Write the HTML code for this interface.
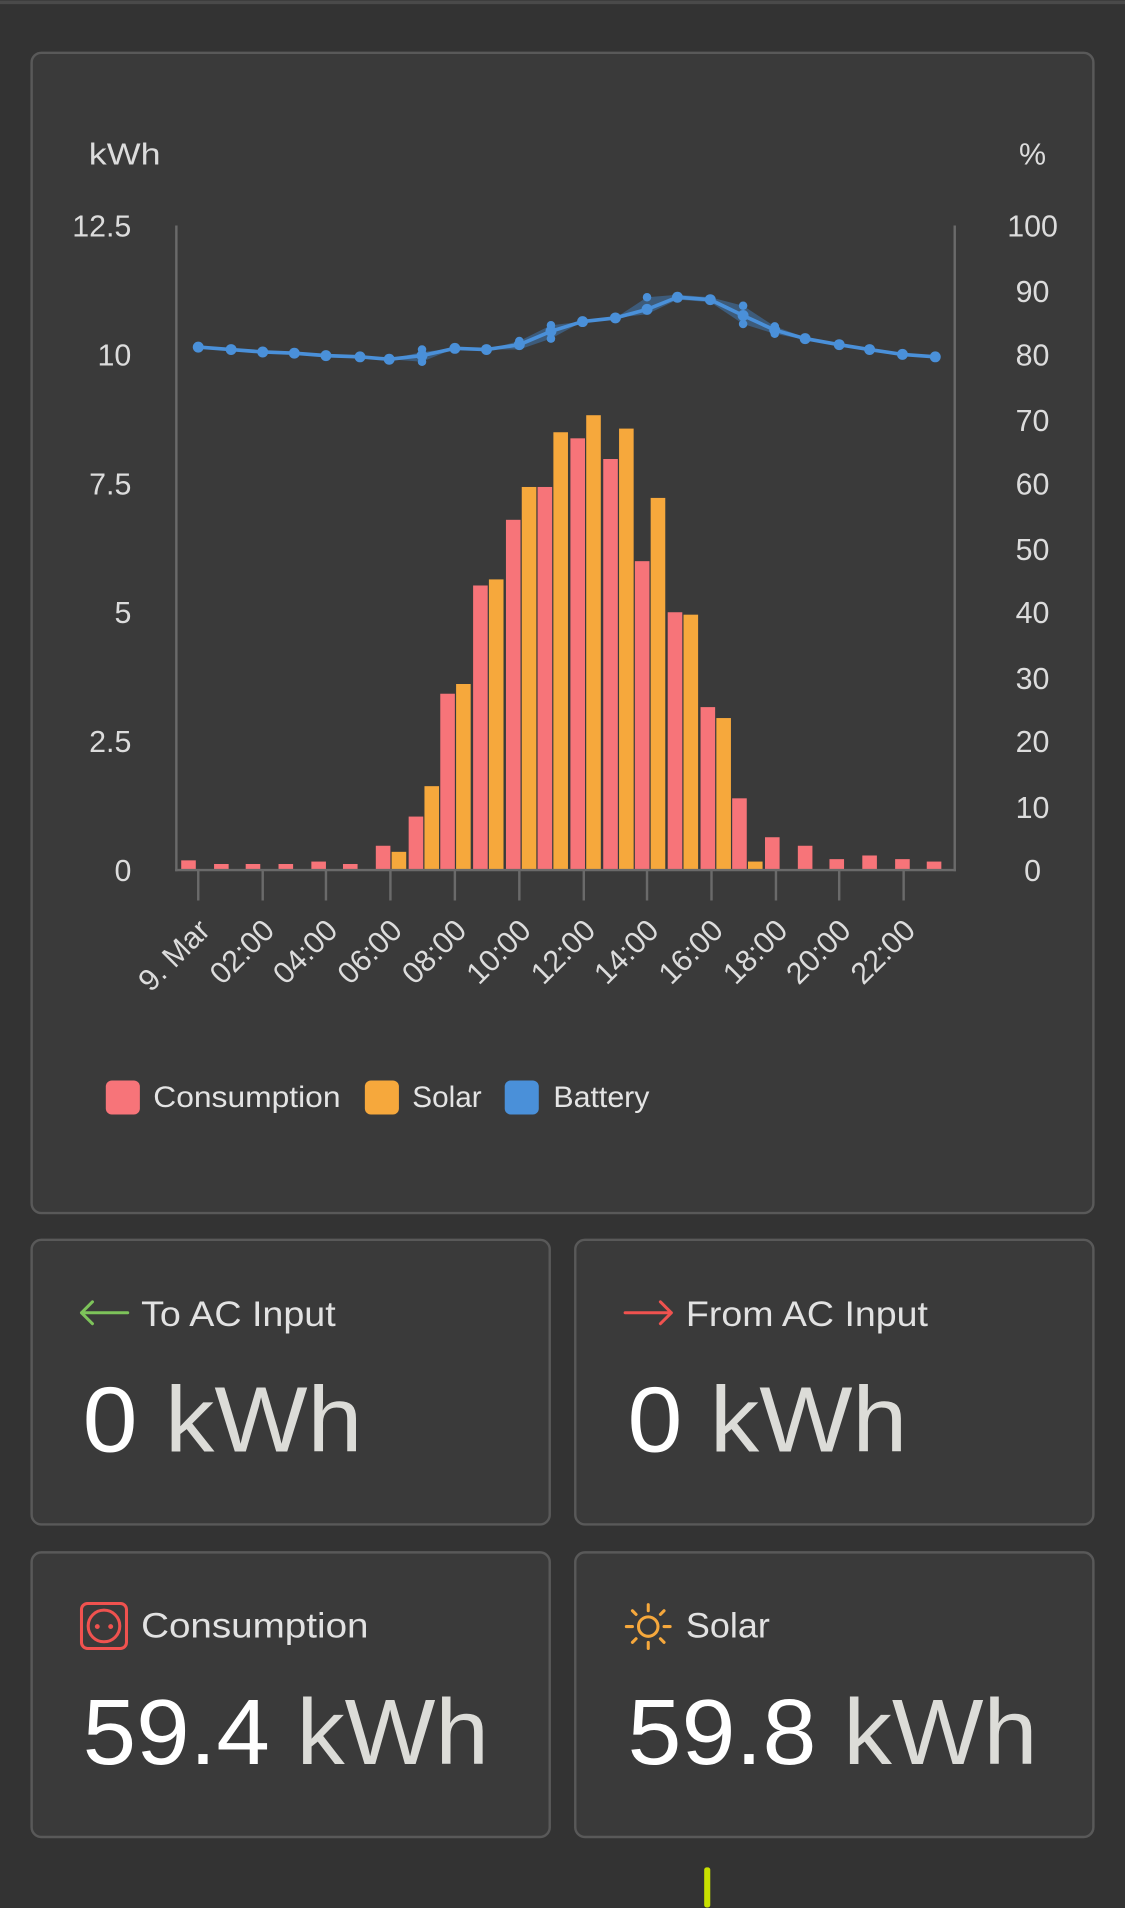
<!DOCTYPE html>
<html><head><meta charset="utf-8"><style>
html,body{margin:0;padding:0;background:#333333;}
svg{display:block;}
text{font-family:"Liberation Sans",sans-serif;}
</style></head><body>
<svg width="1125" height="1908" viewBox="0 0 925 1568" xmlns="http://www.w3.org/2000/svg">
<rect x="0" y="0" width="925" height="1568" fill="#333333"/>
<rect x="0" y="0" width="925" height="3" fill="#4a4a4a"/>
<rect x="26" y="43" width="873" height="954" rx="8" fill="#3a3a3a" stroke="#595959" stroke-width="2"/>
<g fill="#dcdcdc" font-size="25">
<text x="73" y="135" textLength="59" lengthAdjust="spacingAndGlyphs">kWh</text>
<text x="849" y="135" text-anchor="middle">%</text>
<g text-anchor="end">
<text x="108" y="194">12.5</text><text x="108" y="300">10</text><text x="108" y="406">7.5</text>
<text x="108" y="512">5</text><text x="108" y="618">2.5</text><text x="108" y="724">0</text>
</g>
<g text-anchor="middle">
<text x="849" y="194">100</text><text x="849" y="248">90</text><text x="849" y="300">80</text>
<text x="849" y="354">70</text><text x="849" y="406">60</text><text x="849" y="460">50</text>
<text x="849" y="512">40</text><text x="849" y="566">30</text><text x="849" y="618">20</text>
<text x="849" y="672">10</text><text x="849" y="724">0</text>
</g>
</g>
<g fill="#f77479">
<rect x="149" y="707" width="12" height="8"/><rect x="176" y="710" width="12" height="5"/>
<rect x="202" y="710" width="12" height="5"/><rect x="229" y="710" width="12" height="5"/>
<rect x="256" y="708" width="12" height="7"/><rect x="282" y="710" width="12" height="5"/>
<rect x="309" y="695" width="12" height="20"/><rect x="336" y="671" width="12" height="44"/>
<rect x="362" y="570" width="12" height="145"/><rect x="389" y="481" width="12" height="234"/>
<rect x="416" y="427" width="12" height="288"/><rect x="442" y="400" width="12" height="315"/>
<rect x="469" y="360" width="12" height="355"/><rect x="496" y="377" width="12" height="338"/>
<rect x="522" y="461" width="12" height="254"/><rect x="549" y="503" width="12" height="212"/>
<rect x="576" y="581" width="12" height="134"/><rect x="602" y="656" width="12" height="59"/>
<rect x="629" y="688" width="12" height="27"/><rect x="656" y="695" width="12" height="20"/>
<rect x="682" y="706" width="12" height="9"/><rect x="709" y="703" width="12" height="12"/>
<rect x="736" y="706" width="12" height="9"/><rect x="762" y="708" width="12" height="7"/>
</g>
<g fill="#f6a83c">
<rect x="322" y="700" width="12" height="15"/><rect x="349" y="646" width="12" height="69"/>
<rect x="375" y="562" width="12" height="153"/><rect x="402" y="476" width="12" height="239"/>
<rect x="429" y="400" width="12" height="315"/><rect x="455" y="355" width="12" height="360"/>
<rect x="482" y="341" width="12" height="374"/><rect x="509" y="352" width="12" height="363"/>
<rect x="535" y="409" width="12" height="306"/><rect x="562" y="505" width="12" height="210"/>
<rect x="589" y="590" width="12" height="125"/><rect x="615" y="708" width="12" height="7"/>
</g>
<g stroke="#6a6a6a" stroke-width="2" fill="none">
<line x1="145" y1="185" x2="145" y2="716"/>
<line x1="785" y1="185" x2="785" y2="716"/>
<line x1="144" y1="715" x2="786" y2="715"/>
<line x1="163" y1="715" x2="163" y2="740"/><line x1="216" y1="715" x2="216" y2="740"/>
<line x1="268" y1="715" x2="268" y2="740"/><line x1="321" y1="715" x2="321" y2="740"/>
<line x1="374" y1="715" x2="374" y2="740"/><line x1="427" y1="715" x2="427" y2="740"/>
<line x1="480" y1="715" x2="480" y2="740"/><line x1="532" y1="715" x2="532" y2="740"/>
<line x1="585" y1="715" x2="585" y2="740"/><line x1="638" y1="715" x2="638" y2="740"/>
<line x1="690" y1="715" x2="690" y2="740"/><line x1="743" y1="715" x2="743" y2="740"/>
</g>
<polygon fill="#3f6a96" opacity="0.7" points="320,295 347,289 374,286 400,287 427,280 453,267 479,264 506,261 532,244 557,242 584,244 611,251 637,268 662,277 662,279 637,274 611,266 584,248 557,246 532,258 506,261 479,264 453,278 427,287 400,287 374,286 347,297 320,295"/>
<polyline fill="none" stroke="#4a90d9" stroke-width="3" points="163,285 190,287 216,289 242,290 268,292 296,293 320,295 347,292 374,286 400,287 427,283 453,272 479,264 506,261 532,254 557,244 584,246 611,259 637,271 662,278 690,283 715,287 742,291 769,293"/>
<g fill="#4a90d9">
<circle cx="163" cy="285" r="4.5"/><circle cx="190" cy="287" r="4.5"/><circle cx="216" cy="289" r="4.5"/>
<circle cx="242" cy="290" r="4.5"/><circle cx="268" cy="292" r="4.5"/><circle cx="296" cy="293" r="4.5"/>
<circle cx="320" cy="295" r="4.5"/><circle cx="347" cy="292" r="4.5"/><circle cx="374" cy="286" r="4.5"/>
<circle cx="400" cy="287" r="4.5"/><circle cx="427" cy="283" r="4.5"/><circle cx="453" cy="272" r="4.5"/>
<circle cx="479" cy="264" r="4.5"/><circle cx="506" cy="261" r="4.5"/><circle cx="532" cy="254" r="4.5"/>
<circle cx="557" cy="244" r="4.5"/><circle cx="584" cy="246" r="4.5"/><circle cx="611" cy="259" r="4.5"/>
<circle cx="637" cy="271" r="4.5"/><circle cx="662" cy="278" r="4.5"/><circle cx="690" cy="283" r="4.5"/>
<circle cx="715" cy="287" r="4.5"/><circle cx="742" cy="291" r="4.5"/><circle cx="769" cy="293" r="4.5"/>
<circle cx="347" cy="287" r="3.5"/><circle cx="347" cy="297" r="3.5"/><circle cx="427" cy="280" r="3.5"/>
<circle cx="453" cy="267" r="3.5"/><circle cx="453" cy="278" r="3.5"/><circle cx="532" cy="244" r="3.5"/>
<circle cx="611" cy="251" r="3.5"/><circle cx="611" cy="266" r="3.5"/><circle cx="637" cy="268" r="3.5"/><circle cx="637" cy="274" r="3.5"/>
</g>
<g fill="#dcdcdc" font-size="25" text-anchor="end">
<text transform="translate(174,766) rotate(-45)">9. Mar</text>
<text transform="translate(227,766) rotate(-45)">02:00</text>
<text transform="translate(279,766) rotate(-45)">04:00</text>
<text transform="translate(332,766) rotate(-45)">06:00</text>
<text transform="translate(385,766) rotate(-45)">08:00</text>
<text transform="translate(438,766) rotate(-45)">10:00</text>
<text transform="translate(491,766) rotate(-45)">12:00</text>
<text transform="translate(543,766) rotate(-45)">14:00</text>
<text transform="translate(596,766) rotate(-45)">16:00</text>
<text transform="translate(649,766) rotate(-45)">18:00</text>
<text transform="translate(701,766) rotate(-45)">20:00</text>
<text transform="translate(754,766) rotate(-45)">22:00</text>
</g>
<rect x="87" y="888" width="28" height="28" rx="5" fill="#f77479"/>
<rect x="300" y="888" width="28" height="28" rx="5" fill="#f6a83c"/>
<rect x="415" y="888" width="28" height="28" rx="5" fill="#4a90d9"/>
<g fill="#e4e4e4" font-size="24">
<text x="126" y="910" textLength="154" lengthAdjust="spacingAndGlyphs">Consumption</text>
<text x="339" y="910" textLength="57" lengthAdjust="spacingAndGlyphs">Solar</text>
<text x="455" y="910" textLength="79" lengthAdjust="spacingAndGlyphs">Battery</text>
</g>

<g fill="#3a3a3a" stroke="#595959" stroke-width="2">
<rect x="26" y="1019" width="426" height="234" rx="8"/>
<rect x="473" y="1019" width="426" height="234" rx="8"/>
<rect x="26" y="1276" width="426" height="234" rx="8"/>
<rect x="473" y="1276" width="426" height="234" rx="8"/>
</g>
<g stroke-width="2.5" fill="none" stroke-linecap="round">
<path d="M67 1079 H105 M67 1079 l9 -9 M67 1079 l9 9" stroke="#7dc35a"/>
<path d="M514 1079 H552 M552 1079 l-9 -9 M552 1079 l-9 9" stroke="#f0524f"/>
<rect x="67" y="1318" width="37" height="37" rx="5" stroke="#f0524f"/>
<circle cx="85.5" cy="1336.5" r="13" stroke="#f0524f"/>
<circle cx="533" cy="1337" r="8" stroke="#f6a83c"/>
<path d="M533 1319v5M533 1350v5M515 1337h5M546 1337h5M520 1324l3 3M543 1347l3 3M546 1324l-3 3M520 1350l3 -3" stroke="#f6a83c"/>
</g>
<circle cx="80" cy="1337" r="2" fill="#f0524f"/><circle cx="91" cy="1337" r="2" fill="#f0524f"/>
<g fill="#e2e2e2" font-size="29">
<text x="116" y="1090" textLength="160" lengthAdjust="spacingAndGlyphs">To AC Input</text>
<text x="564" y="1090" textLength="199" lengthAdjust="spacingAndGlyphs">From AC Input</text>
<text x="116" y="1346" textLength="187" lengthAdjust="spacingAndGlyphs">Consumption</text>
<text x="564" y="1346" textLength="69" lengthAdjust="spacingAndGlyphs">Solar</text>
</g>
<g font-size="76">
<text x="68" y="1193" textLength="230" lengthAdjust="spacingAndGlyphs"><tspan fill="#ffffff">0</tspan><tspan fill="#dcdcd8"> kWh</tspan></text>
<text x="516" y="1193" textLength="230" lengthAdjust="spacingAndGlyphs"><tspan fill="#ffffff">0</tspan><tspan fill="#dcdcd8"> kWh</tspan></text>
<text x="68" y="1450" textLength="334" lengthAdjust="spacingAndGlyphs"><tspan fill="#ffffff">59.4</tspan><tspan fill="#dcdcd8"> kWh</tspan></text>
<text x="516" y="1450" textLength="337" lengthAdjust="spacingAndGlyphs"><tspan fill="#ffffff">59.8</tspan><tspan fill="#dcdcd8"> kWh</tspan></text>
</g>
<rect x="579" y="1535" width="5" height="33" rx="2" fill="#c8e000"/>
</svg>
</body></html>
